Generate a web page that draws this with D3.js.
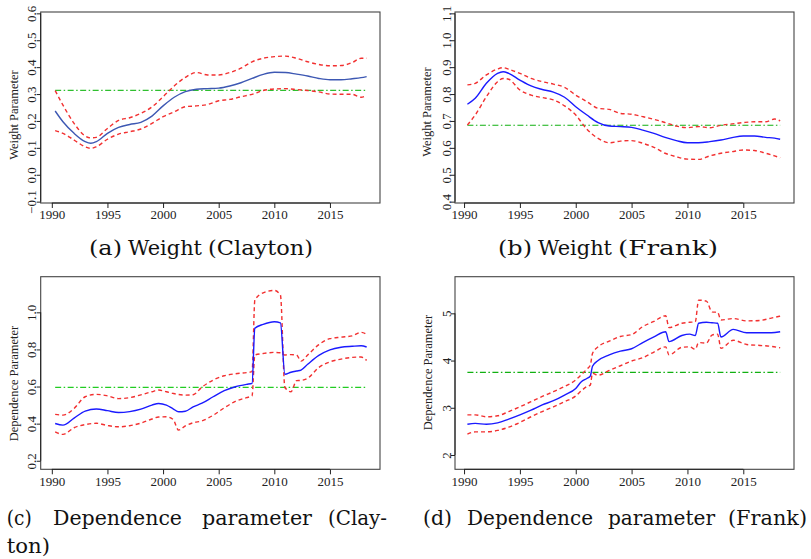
<!DOCTYPE html>
<html>
<head>
<meta charset="utf-8">
<script src="https://cdn.jsdelivr.net/npm/d3@7"></script>
<style>
  body { margin: 0; background: #fff; }
  svg { display: block; }
</style>
</head>
<body>
<svg id="fig" width="811" height="559"></svg>
<script>
// ---- data ----
var xTicks = [1990, 1995, 2000, 2005, 2010, 2015];

// (a) Weight (Clayton)
var yearsA = [1990.3, 1991, 1992, 1993, 1993.5, 1994, 1995, 1996, 1997, 1998, 1999, 2000, 2001, 2002, 2003,
  2004, 2005, 2006, 2007, 2008, 2009, 2010, 2011, 2012, 2013, 2014, 2015, 2016, 2017, 2017.8, 2018.3];
var estA = [0.237, 0.197, 0.154, 0.123, 0.117, 0.123, 0.154, 0.176, 0.187, 0.195, 0.218, 0.256, 0.288, 0.309, 0.318,
  0.320, 0.322, 0.330, 0.342, 0.358, 0.373, 0.381, 0.380, 0.374, 0.367, 0.358, 0.353, 0.353, 0.357, 0.361, 0.365];
var upA = [0.313, 0.259, 0.191, 0.144, 0.137, 0.139, 0.172, 0.202, 0.212, 0.228, 0.252, 0.290, 0.330, 0.362, 0.380,
  0.371, 0.371, 0.380, 0.396, 0.420, 0.433, 0.439, 0.441, 0.433, 0.420, 0.410, 0.405, 0.406, 0.417, 0.433, 0.433];
var loA = [0.164, 0.154, 0.129, 0.104, 0.098, 0.104, 0.132, 0.151, 0.160, 0.170, 0.191, 0.216, 0.234, 0.253, 0.256,
  0.261, 0.275, 0.280, 0.290, 0.299, 0.313, 0.319, 0.320, 0.317, 0.313, 0.308, 0.300, 0.299, 0.299, 0.288, 0.296];
var meanA = 0.314;
var yTicksA = [-0.1, 0.0, 0.1, 0.2, 0.3, 0.4, 0.5, 0.6];

// (b) Weight (Frank)
var yearsB = yearsA;
var estB = [0.762, 0.784, 0.840, 0.877, 0.883, 0.877, 0.852, 0.830, 0.817, 0.807, 0.788, 0.753, 0.722, 0.694, 0.681,
  0.679, 0.676, 0.666, 0.654, 0.639, 0.627, 0.619, 0.619, 0.623, 0.629, 0.638, 0.644, 0.644, 0.639, 0.636, 0.632];
var upB = [0.834, 0.840, 0.871, 0.893, 0.898, 0.892, 0.877, 0.858, 0.846, 0.837, 0.825, 0.796, 0.772, 0.747, 0.743,
  0.728, 0.725, 0.716, 0.706, 0.694, 0.681, 0.675, 0.679, 0.675, 0.684, 0.689, 0.694, 0.697, 0.697, 0.707, 0.700];
var loB = [0.685, 0.722, 0.790, 0.846, 0.858, 0.855, 0.815, 0.796, 0.787, 0.778, 0.756, 0.722, 0.669, 0.635, 0.619,
  0.625, 0.627, 0.617, 0.602, 0.580, 0.567, 0.558, 0.557, 0.570, 0.580, 0.586, 0.592, 0.590, 0.580, 0.570, 0.563];
var meanB = 0.684;
var yTicksB = [0.4, 0.5, 0.6, 0.7, 0.8, 0.9, 1.0, 1.1];

// (c) Dependence parameter (Clayton)
var yearsC = [1990.3, 1991, 1992, 1993, 1994, 1995, 1996, 1997, 1998, 1999, 1999.6, 2000.3, 2000.9, 2001.4, 2002,
  2002.7, 2003.5, 2004.5, 2005.5, 2006.5, 2007.5, 2008.0, 2008.25, 2009, 2010, 2010.55, 2010.95, 2011.5, 2012,
  2012.4, 2013, 2014, 2015, 2016, 2017, 2017.8, 2018.3];
var estC = [0.401, 0.392, 0.430, 0.468, 0.479, 0.470, 0.460, 0.465, 0.478, 0.500, 0.509, 0.500, 0.480, 0.464, 0.467,
  0.490, 0.510, 0.545, 0.578, 0.599, 0.612, 0.617, 0.914, 0.935, 0.949, 0.943, 0.666, 0.677, 0.684,
  0.689, 0.720, 0.768, 0.798, 0.812, 0.817, 0.820, 0.813];
var upC = [0.450, 0.446, 0.482, 0.545, 0.558, 0.550, 0.535, 0.540, 0.555, 0.572, 0.581, 0.572, 0.563, 0.557, 0.554,
  0.556, 0.597, 0.635, 0.658, 0.669, 0.675, 0.680, 1.066, 1.105, 1.118, 1.093, 0.595, 0.572, 0.632,
  0.633, 0.645, 0.703, 0.733, 0.748, 0.757, 0.759, 0.741];
var loC = [0.356, 0.342, 0.378, 0.395, 0.402, 0.390, 0.383, 0.389, 0.403, 0.425, 0.436, 0.437, 0.423, 0.365, 0.388,
  0.405, 0.415, 0.445, 0.485, 0.520, 0.540, 0.550, 0.770, 0.778, 0.784, 0.782, 0.770, 0.772, 0.770,
  0.737, 0.770, 0.826, 0.858, 0.866, 0.873, 0.892, 0.881];
var meanC = 0.596;
var yTicksC = [0.2, 0.4, 0.6, 0.8, 1.0];

// (d) Dependence parameter (Frank)
var yearsD = [1990.3, 1991, 1992, 1993, 1994, 1995, 1996, 1997, 1998, 1999, 2000, 2000.5, 2001, 2001.3, 2001.5,
  2002, 2003, 2004, 2005, 2006, 2007, 2008.05, 2008.35, 2009.5, 2010.2, 2010.7, 2011.0, 2011.7, 2012.2, 2012.7,
  2013.0, 2014.1, 2015.3, 2016.5, 2017.5, 2018.3];
var estD = [2.65, 2.67, 2.65, 2.68, 2.76, 2.85, 2.95, 3.06, 3.15, 3.27, 3.41, 3.55, 3.62, 3.67, 3.88,
  4.00, 4.12, 4.20, 4.25, 4.38, 4.50, 4.61, 4.40, 4.53, 4.56, 4.53, 4.79, 4.81, 4.80, 4.79,
  4.50, 4.66, 4.59, 4.59, 4.59, 4.61];
var upD = [2.85, 2.85, 2.81, 2.83, 2.92, 3.02, 3.13, 3.24, 3.34, 3.45, 3.59, 3.70, 3.82, 3.90, 4.15,
  4.29, 4.41, 4.51, 4.55, 4.72, 4.83, 4.95, 4.70, 4.79, 4.81, 4.82, 5.28, 5.26, 5.03, 5.02,
  4.86, 4.89, 4.84, 4.85, 4.90, 4.94];
var loD = [2.44, 2.49, 2.49, 2.52, 2.59, 2.69, 2.81, 2.92, 3.02, 3.13, 3.25, 3.36, 3.45, 3.48, 3.73,
  3.69, 3.79, 3.89, 3.99, 4.06, 4.18, 4.29, 4.12, 4.28, 4.29, 4.24, 4.38, 4.37, 4.54, 4.56,
  4.26, 4.43, 4.34, 4.32, 4.30, 4.27];
var meanD = 3.75;
var yTicksD = [2, 3, 4, 5];

var yLabels = ['Weight Parameter', 'Weight Parameter', 'Dependence Parameter', 'Dependence Parameter'];

// ---- layout ----
var panels = [
  {years: yearsA, est: estA, up: upA, lo: loA, mean: meanA, yTicks: yTicksA, fmt: d3.format('.1f'),
    yLabel: yLabels[0], box: [40.7, 12, 380, 203], xDomain: [1989.0, 2019.5], yDomain: [-0.105, 0.605],
    labelX: 17.5, labelY: 115, estColor: '#3d58b3', greenColor: '#2fbf2f'},
  {years: yearsB, est: estB, up: upB, lo: loB, mean: meanB, yTicks: yTicksB, fmt: d3.format('.1f'),
    yLabel: yLabels[1], box: [455, 12, 794, 203], xDomain: [1989.19, 2019.54], yDomain: [0.395, 1.105],
    labelX: 431, labelY: 112, estColor: '#1a1aff', greenColor: '#11b011'},
  {years: yearsC, est: estC, up: upC, lo: loC, mean: meanC, yTicks: yTicksC, fmt: d3.format('.1f'),
    yLabel: yLabels[2], box: [40.7, 276.7, 380, 469.3], xDomain: [1989.0, 2019.5], yDomain: [0.154, 1.192],
    labelX: 17.5, labelY: 383.5, estColor: '#1a1aff', greenColor: '#22cc22'},
  {years: yearsD, est: estD, up: upD, lo: loD, mean: meanD, yTicks: yTicksD, fmt: d3.format('d'),
    yLabel: yLabels[3], box: [455, 276.7, 794, 469.3], xDomain: [1989.19, 2019.54], yDomain: [1.697, 5.776],
    labelX: 431.5, labelY: 372.5, estColor: '#1a1aff', greenColor: '#11b011'}
];

// caption words: [text, x start, x end]
var captions = [
  {y: 254.5, words: [['(a)', 89, 122], ['Weight', 128, 202], ['(Clayton)', 208, 313]]},
  {y: 254.5, words: [['(b)', 498, 532], ['Weight', 538, 612], ['(Frank)', 618, 718]]},
  {y: 525, words: [['(c)', 6.7, 31.7], ['Dependence', 53, 182], ['parameter', 202, 312], ['(Clay-', 328, 387]]},
  {y: 553, words: [['ton)', 6.7, 50]]},
  {y: 525, words: [['(d)', 423, 452], ['Dependence', 467, 593], ['parameter', 608, 715], ['(Frank)', 728, 807]]}
];

var svg = d3.select('#fig');
var tickFont = '"Liberation Serif", "Times New Roman", serif';

function drawPanel(p) {
  var x = d3.scaleLinear().domain(p.xDomain).range([p.box[0], p.box[2]]);
  var y = d3.scaleLinear().domain(p.yDomain).range([p.box[3], p.box[1]]);
  var g = svg.append('g');
  var line = d3.line()
      .x(function(d) { return x(d[0]); })
      .y(function(d) { return y(d[1]); })
      .curve(d3.curveMonotoneX);
  var pts = function(vals) {
    return vals.map(function(v, i) { return [p.years[i], v]; });
  };

  // mean line (dot-dash)
  g.append('line')
      .attr('x1', x(p.years[0])).attr('x2', x(p.years[p.years.length - 1]))
      .attr('y1', y(p.mean)).attr('y2', y(p.mean))
      .attr('stroke', p.greenColor).attr('stroke-width', 1.2)
      .attr('stroke-dasharray', '6,2.5,1.5,2.5');

  [p.up, p.lo].forEach(function(band) {
    g.append('path').attr('d', line(pts(band)))
        .attr('fill', 'none').attr('stroke', '#f23030').attr('stroke-width', 1.4)
        .attr('stroke-dasharray', '4,3');
  });

  g.append('path').attr('d', line(pts(p.est)))
      .attr('fill', 'none').attr('stroke', p.estColor).attr('stroke-width', 1.4);

  // box
  g.append('rect')
      .attr('x', p.box[0]).attr('y', p.box[1])
      .attr('width', p.box[2] - p.box[0]).attr('height', p.box[3] - p.box[1])
      .attr('fill', 'none').attr('stroke', '#444').attr('stroke-width', 1.1);

  // x axis
  var xa = g.append('g').attr('transform', 'translate(0,' + p.box[3] + ')')
      .call(d3.axisBottom(x).tickValues(xTicks).tickFormat(d3.format('d')).tickSize(5).tickPadding(2));
  xa.select('.domain').remove();
  xa.append('line').attr('x1', x(xTicks[0])).attr('x2', x(xTicks[xTicks.length - 1]))
      .attr('stroke', '#222');
  xa.selectAll('text').attr('font-family', tickFont).attr('font-size', 13).attr('fill', '#222');
  xa.selectAll('.tick line').attr('stroke', '#222');

  // y axis, labels parallel to axis
  var ya = g.append('g').attr('transform', 'translate(' + p.box[0] + ',0)')
      .call(d3.axisLeft(y).tickValues(p.yTicks).tickFormat(p.fmt).tickSize(4));
  ya.select('.domain').remove();
  ya.append('line').attr('y1', y(p.yTicks[0])).attr('y2', y(p.yTicks[p.yTicks.length - 1]))
      .attr('stroke', '#222');
  ya.selectAll('.tick line').attr('stroke', '#222');
  ya.selectAll('text')
      .text(function(d) { return p.fmt(d).replace('-', '\u2212'); })
      .attr('x', 0).attr('y', 0).attr('dy', null)
      .attr('text-anchor', 'middle')
      .attr('transform', 'translate(-4.5,0) rotate(-90)')
      .attr('font-family', tickFont).attr('font-size', 13).attr('fill', '#222');

  g.append('text')
      .attr('transform', 'translate(' + p.labelX + ',' + p.labelY + ') rotate(-90)')
      .attr('text-anchor', 'middle')
      .attr('font-family', tickFont).attr('font-size', 12.5).attr('fill', '#222')
      .text(p.yLabel);
}

panels.forEach(drawPanel);

captions.forEach(function(c) {
  c.words.forEach(function(w) {
    svg.append('text')
        .attr('x', w[1]).attr('y', c.y)
        .attr('textLength', w[2] - w[1]).attr('lengthAdjust', 'spacingAndGlyphs')
        .attr('font-family', '"DejaVu Serif", serif').attr('font-size', 20).attr('fill', '#111')
        .text(w[0]);
  });
});
</script>
</body>
</html>
